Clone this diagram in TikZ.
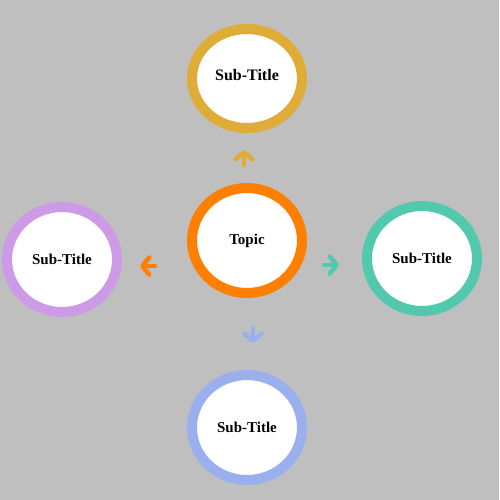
\documentclass[tikz,border=0pt]{standalone}
\usepackage{fontspec}
\setmainfont{Liberation Serif}
\usetikzlibrary{shapes.geometric, arrows.meta, positioning}
\definecolor{bggray}{HTML}{BFBFBF}
\definecolor{topicorange}{HTML}{FF8000}
\definecolor{subgold}{HTML}{E0AC38}
\definecolor{sublilac}{HTML}{CC9AE6}
\definecolor{subteal}{HTML}{52C9AE}
\definecolor{subblue}{HTML}{9AB0EE}

\begin{document}
\begin{tikzpicture}[x=1pt, y=-1pt,
    ring/.style={ellipse, draw=#1, fill=white, line width=10pt, inner sep=0pt,
        minimum width=110pt, minimum height=105pt, font=\bfseries\fontsize{15}{18}\selectfont},
    pointer/.style={draw=#1, line width=4.5pt, line cap=round,
        -{Straight Barb[length=7pt, width=17pt, round]}}]
            \fill[bggray] (0,0) rectangle (499,500);
            \useasboundingbox (0,0) rectangle (499,500);
            \node [ring=topicorange] (topic) at (247,240.5) {Topic};
            \node [ring=subgold, minimum height=99pt, font=\bfseries\fontsize{16}{19}\selectfont,
                text depth=8pt, above=50pt of topic] (top) {Sub-Title};
            \node [ring=sublilac, left=65pt of topic, yshift=-19pt] (left) {Sub-Title};
            \node [ring=subteal, right=55pt of topic, yshift=-18pt] (right) {Sub-Title};
            \node [ring=subblue, below=72pt of topic] (bottom) {Sub-Title};
            \coordinate (topA) at (244,165);
            \coordinate (topB) at (244,150);
            \coordinate (leftA) at (155,266);
            \coordinate (leftB) at (140,266);
            \coordinate (rightA) at (324,265);
            \coordinate (rightB) at (339,265);
            \coordinate (bottomA) at (253,328);
            \coordinate (bottomB) at (253,343);
            \draw [pointer=subgold] (topA) -- (topB);
            \draw [pointer=topicorange] (leftA) -- (leftB);
            \draw [pointer=subteal] (rightA) -- (rightB);
            \draw [pointer=subblue] (bottomA) -- (bottomB);
        \end{tikzpicture}
\end{document}
